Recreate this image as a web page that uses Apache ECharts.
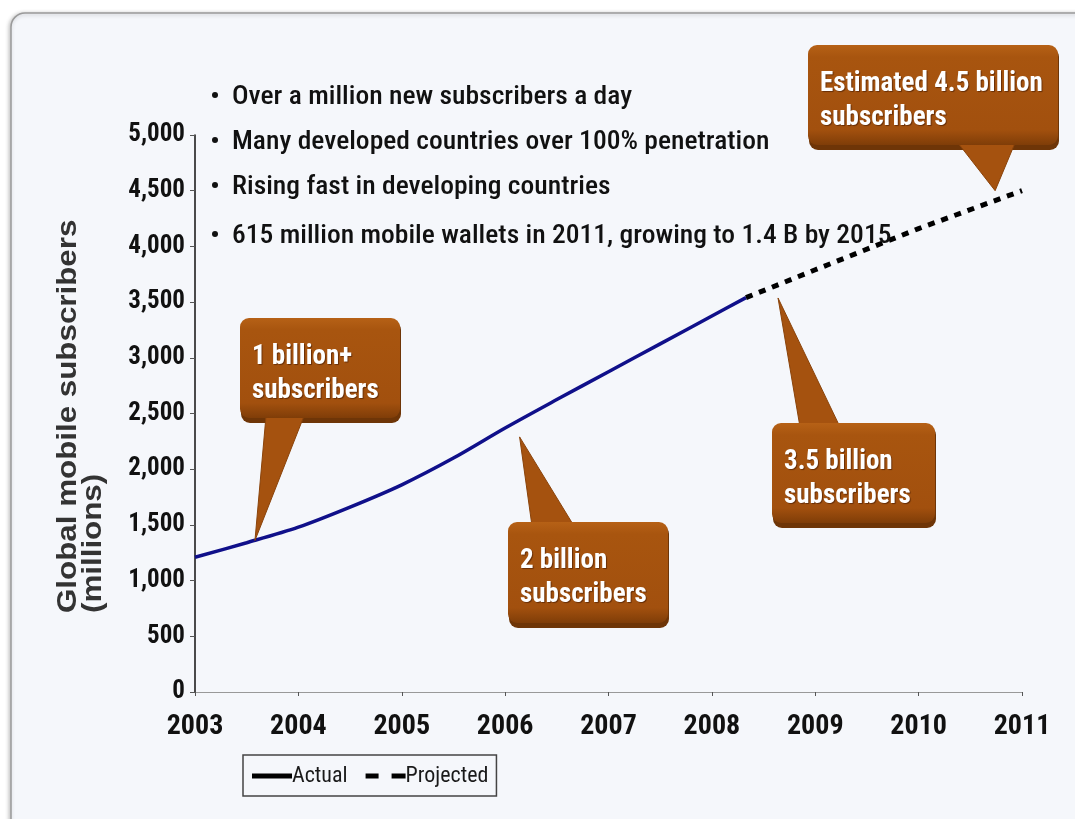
<!DOCTYPE html>
<html>
<head>
<meta charset="utf-8">
<style>
  html, body { margin: 0; padding: 0; background: #ffffff; }
  #chart { width: 1075px; height: 819px; }
</style>
<script src="https://cdn.jsdelivr.net/npm/echarts@6/dist/echarts.min.js"></script>
</head>
<body>
<div id="chart"></div>
<script>
// Global mobile subscribers (millions), actual and projected
const actualData = [
  [2003, 1210], [2003.5, 1340], [2004, 1480], [2004.5, 1660], [2005, 1860],
  [2005.5, 2100], [2006, 2370], [2006.5, 2625], [2007, 2875], [2007.5, 3125],
  [2008, 3375], [2008.33, 3540]
];
const projectedData = [
  [2008.33, 3540], [2009, 3790], [2010, 4160], [2011, 4500]
];
const xTicks = [2003, 2004, 2005, 2006, 2007, 2008, 2009, 2010, 2011];
const yTicks = [0, 500, 1000, 1500, 2000, 2500, 3000, 3500, 4000, 4500, 5000];
const bullets = [
  'Over a million new subscribers a day',
  'Many developed countries over 100% penetration',
  'Rising fast in developing countries',
  '615 million mobile wallets in 2011, growing to 1.4 B by 2015'
];
const calloutTexts = [
  ['1 billion+', 'subscribers'],
  ['2 billion', 'subscribers'],
  ['3.5 billion', 'subscribers'],
  ['Estimated 4.5 billion', 'subscribers']
];
// point each callout's pointer lands on, in data units
const calloutTips = [[2003.58, 1360], [2006.14, 2290], [2008.64, 3537], [2010.74, 4500]];

const NARROW = "'Liberation Sans Narrow', 'Arial Narrow', 'Roboto Condensed', 'Liberation Sans', sans-serif";
const SANS = "'Liberation Sans', Arial, sans-serif";

const chart = echarts.init(document.getElementById('chart'));

// callout layout: box rect and pointer base (pixels)
const calloutBoxes = [
  { x: 240, y: 318, w: 160, h: 102, base: [266, 304], side: 'bottom' },
  { x: 508, y: 522, w: 160, h: 103, base: [532, 574], side: 'top' },
  { x: 772, y: 423, w: 163, h: 102, base: [800, 840], side: 'top' },
  { x: 808, y: 45, w: 250, h: 102, base: [958, 1015], side: 'bottom' }
];

function buildGraphics() {
  const g = [];
  // panel background
  g.push({
    type: 'rect', z: -10, silent: true,
    shape: { x: 11, y: 13, width: 1090, height: 830, r: 14 },
    style: { fill: '#f5f7fb', stroke: '#9a9a9a', lineWidth: 1.5,
      shadowColor: 'rgba(0,0,0,0.25)', shadowBlur: 4, shadowOffsetX: -1, shadowOffsetY: 1 }
  });
  // bullet list
  const by = [97, 142, 187, 236];
  bullets.forEach((t, i) => {
    g.push({ type: 'circle', z: 5, silent: true,
      shape: { cx: 215, cy: by[i] - 2, r: 3 }, style: { fill: '#111' } });
    g.push({ type: 'text', z: 5, silent: true, x: 232, y: by[i], scaleX: 1.06,
      style: { text: t, font: '500 26px ' + NARROW, fill: '#111', verticalAlign: 'middle' } });
  });
  // axis title, two lines reading bottom to top
  g.push({ type: 'text', silent: true, x: 69, y: 613, rotation: Math.PI / 2, scaleX: 1.16,
    style: { text: 'Global mobile subscribers', font: 'bold 27px ' + SANS, fill: '#333',
      align: 'left', verticalAlign: 'middle' } });
  g.push({ type: 'text', silent: true, x: 94, y: 613, rotation: Math.PI / 2, scaleX: 1.16,
    style: { text: '(millions)', font: 'bold 27px ' + SANS, fill: '#333',
      align: 'left', verticalAlign: 'middle' } });
  // callouts
  calloutBoxes.forEach((b, i) => {
    const tip = chart.convertToPixel({ gridIndex: 0 }, calloutTips[i]);
    const edgeY = b.side === 'bottom' ? b.y + b.h - 4 : b.y + 4;
    g.push({ type: 'polygon', z: 20, silent: true,
      shape: { points: [[b.base[0], edgeY], [b.base[1], edgeY], tip] },
      style: { fill: '#a5520f', stroke: '#8a430a', lineWidth: 1 } });
    g.push({ type: 'rect', z: 19, silent: true,
      shape: { x: b.x + 1, y: b.y + 3, width: b.w, height: b.h, r: 9 },
      style: { fill: '#6e3507' } });
    g.push({ type: 'rect', z: 21, silent: true,
      shape: { x: b.x, y: b.y, width: b.w, height: b.h - 2, r: 9 },
      style: { fill: new echarts.graphic.LinearGradient(0, 0, 0, 1, [
        { offset: 0, color: '#b66116' }, { offset: 0.12, color: '#a8550f' },
        { offset: 0.85, color: '#a2500e' }, { offset: 1, color: '#7f3d08' }]) } });
    calloutTexts[i].forEach((line, k) => {
      g.push({ type: 'text', z: 22, silent: true, x: b.x + 12, y: b.y + 39 + k * 34,
        style: { text: line, font: 'bold 27px ' + NARROW, fill: '#ffffff', verticalAlign: 'middle',
          textShadowColor: 'rgba(60,20,0,0.6)', textShadowBlur: 1, textShadowOffsetX: 1, textShadowOffsetY: 1 } });
    });
  });
  return g;
}

const option = {
  animation: false,
  backgroundColor: '#ffffff',
  grid: { left: 195, right: 53, top: 135, bottom: 127 },
  xAxis: {
    type: 'value', min: xTicks[0], max: xTicks[xTicks.length - 1], interval: 1,
    axisLine: { lineStyle: { color: '#999', width: 1.2 } },
    axisTick: { length: 4, lineStyle: { color: '#555' } },
    splitLine: { show: false },
    axisLabel: { formatter: v => String(v), color: '#111', margin: 21,
      fontFamily: NARROW, fontWeight: 'bold', fontSize: 28 }
  },
  yAxis: {
    type: 'value', min: yTicks[0], max: yTicks[yTicks.length - 1], interval: 500,
    axisLine: { show: true, lineStyle: { color: '#111', width: 1.5 } },
    axisTick: { show: true, length: 5, lineStyle: { color: '#555' } },
    splitLine: { show: false },
    axisLabel: { formatter: v => v.toLocaleString('en-US'), color: '#111', margin: 10,
      fontFamily: NARROW, fontWeight: 'bold', fontSize: 25 }
  },
  legend: {
    left: 243, top: 755,
    orient: 'horizontal',
    padding: [10, 8, 9, 9],
    itemGap: 18, itemWidth: 40, itemHeight: 5,
    borderColor: '#444', borderWidth: 1.5,
    textStyle: { fontFamily: NARROW, fontSize: 22, color: '#1a1a1a', padding: [5, 0, 0, -5] },
    data: [
      { name: 'Actual', icon: 'path://M0,0h40v5h-40z', itemStyle: { color: '#000' } },
      { name: 'Projected', icon: 'path://M0,0h13v5h-13zM26,0h14v5h-14z', itemStyle: { color: '#000' } }
    ]
  },
  series: [
    { name: 'Actual', type: 'line', data: actualData, smooth: 0.3, symbol: 'none',
      lineStyle: { color: '#10108a', width: 3.5 }, z: 3 },
    { name: 'Projected', type: 'line', data: projectedData, smooth: false, symbol: 'none',
      lineStyle: { color: '#000', width: 5, type: [7, 7] }, z: 3 }
  ]
};

chart.setOption(option);
chart.setOption({ graphic: buildGraphics() });
</script>
</body>
</html>
